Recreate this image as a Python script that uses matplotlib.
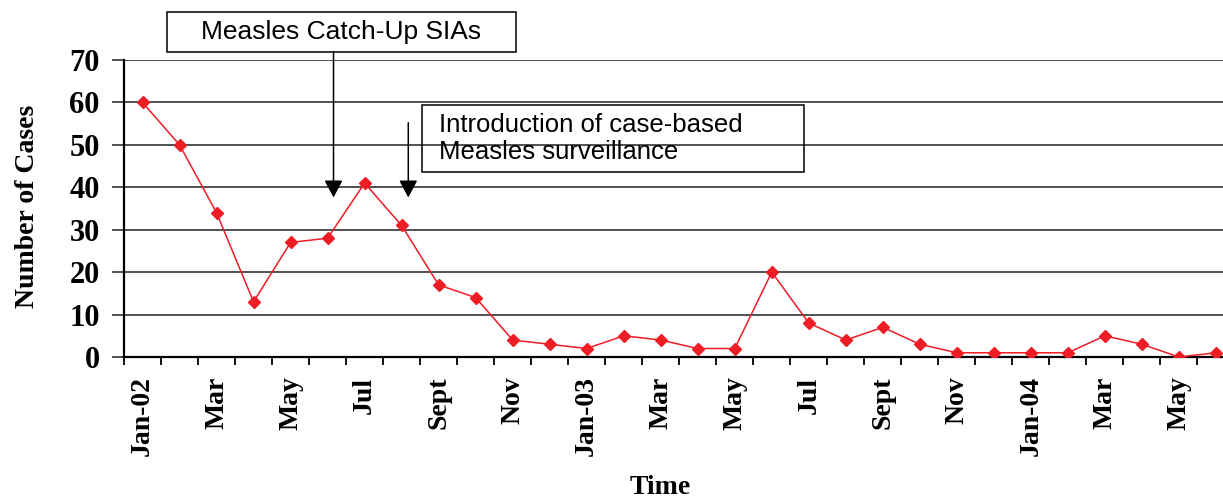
import matplotlib.pyplot as plt
import matplotlib.patches as mpatches
import numpy as np

# monthly measles cases, Jan 2002 - Jun 2004
months = ['Jan-02', 'Feb', 'Mar', 'Apr', 'May', 'Jun', 'Jul', 'Aug', 'Sept', 'Oct', 'Nov', 'Dec',
          'Jan-03', 'Feb', 'Mar', 'Apr', 'May', 'Jun', 'Jul', 'Aug', 'Sept', 'Oct', 'Nov', 'Dec',
          'Jan-04', 'Feb', 'Mar', 'Apr', 'May', 'Jun']
cases = [60, 50, 34, 13, 27, 28, 41, 31, 17, 14, 4, 3,
         2, 5, 4, 2, 2, 20, 8, 4, 7, 3, 1, 1,
         1, 1, 5, 3, 0, 1]
yticks = [0, 10, 20, 30, 40, 50, 60, 70]

serif = 'Liberation Serif'
sans = 'Liberation Sans'

fig = plt.figure(figsize=(12.23, 5.01), dpi=100)
ax = fig.add_axes([124/1223, 144/501, 1099/1223, 297/501])

x = np.arange(len(cases))
ax.plot(x, cases, color='#ee1c25', lw=1.1, marker='D', ms=6, mec='#ee1c25', mfc='#ee1c25', zorder=3)

ax.set_xlim(-0.5, 29.19)
ax.set_ylim(0, 70)

# horizontal gridlines
ax.set_yticks(yticks)
ax.set_yticklabels([str(v) for v in yticks], fontfamily=serif, fontweight='bold', fontsize=22)
ax.yaxis.grid(True, color='#333333', lw=1.2)
ax.set_axisbelow(True)
ax.tick_params(axis='y', direction='out', length=8.5, width=1.2, color='#333333', pad=9)

# x ticks on category boundaries, labels on every other month
ax.set_xticks(np.arange(-0.5, 29, 1))
ax.set_xticklabels([])
ax.tick_params(axis='x', which='major', direction='out', length=6, width=1.3, color='black')
ax.set_xticks(x[::2], minor=True)
ax.set_xticklabels(months[::2], minor=True, rotation=90, ha='center', va='top',
                   fontfamily=serif, fontweight='bold', fontsize=20)
ax.tick_params(axis='x', which='minor', length=0, pad=14)

for s in ['top', 'right']:
    ax.spines[s].set_visible(False)
ax.spines['left'].set_linewidth(1.6)
ax.spines['bottom'].set_linewidth(1.6)

fig.text(27.5/1223, 1 - 206/501, 'Number of Cases', rotation=90, ha='center', va='center',
         fontfamily=serif, fontweight='bold', fontsize=20)
fig.text(660/1223, 1 - 488/501, 'Time', ha='center', va='center',
         fontfamily=serif, fontweight='bold', fontsize=20)

# annotation boxes
fig.patches.append(mpatches.Rectangle((167/1223, 1 - 52/501), 349/1223, 40/501, fill=False,
                                      ec='black', lw=1.1, transform=fig.transFigure))
fig.text(341.5/1223, 1 - 39/501, 'Measles Catch-Up SIAs', ha='center', va='baseline',
         fontfamily=sans, fontsize=19)

fig.patches.append(mpatches.Rectangle((422/1223, 1 - 172/501), 382/1223, 67/501, fill=False,
                                      ec='black', lw=1.1, transform=fig.transFigure, zorder=5))
fig.text(439/1223, 1 - 132/501, 'Introduction of case-based', ha='left', va='baseline',
         fontfamily=sans, fontsize=18.5)
fig.text(439/1223, 1 - 159/501, 'Measles surveillance', ha='left', va='baseline',
         fontfamily=sans, fontsize=18.5)

arrow = dict(arrowstyle='-|>,head_length=0.75,head_width=0.4', color='black', lw=1.1,
             shrinkA=0, shrinkB=0, mutation_scale=14)
ax.annotate('', xy=(5.16, 37.6), xytext=(5.16, 72.0), arrowprops=arrow, annotation_clip=False)
ax.annotate('', xy=(7.18, 37.6), xytext=(7.18, 55.2), arrowprops=arrow, annotation_clip=False)

fig.savefig('out.png', dpi=100)
